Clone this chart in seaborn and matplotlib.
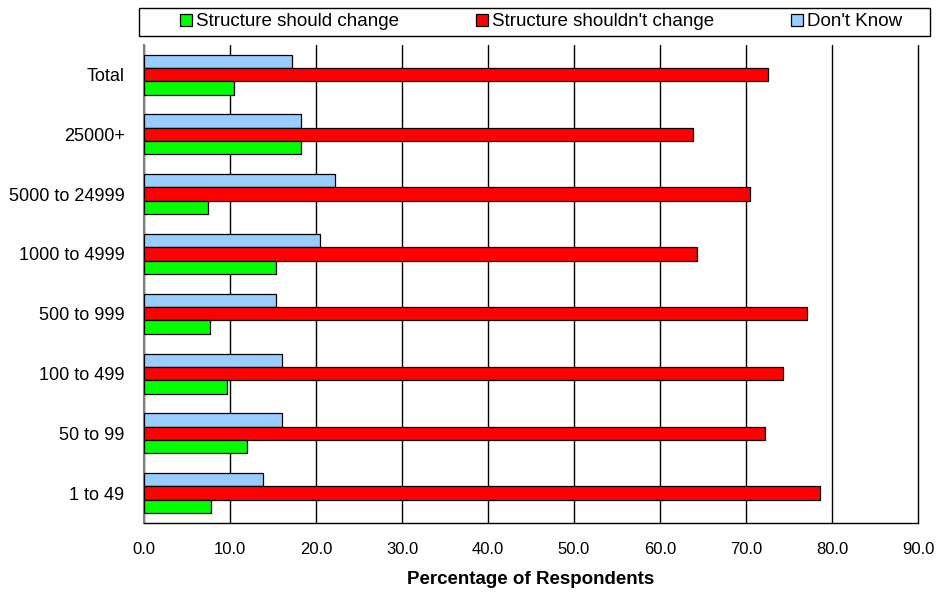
import numpy as np
import pandas as pd
import matplotlib
matplotlib.use("Agg")
import matplotlib.pyplot as plt
from matplotlib.patches import Patch, Rectangle
import seaborn as sns

categories = ["Total", "25000+", "5000 to 24999", "1000 to 4999",
              "500 to 999", "100 to 499", "50 to 99", "1 to 49"]
should_change = [10.5, 18.2, 7.4, 15.4, 7.7, 9.7, 12.0, 7.8]
shouldnt_change = [72.5, 63.8, 70.5, 64.3, 77.1, 74.3, 72.2, 78.6]
dont_know = [17.2, 18.2, 22.2, 20.5, 15.4, 16.1, 16.0, 13.8]
series_names = ["Structure should change", "Structure shouldn't change", "Don't Know"]
series_colors = ["#00FF00", "#FF0000", "#99CCFF"]
x_ticks = [0, 10, 20, 30, 40, 50, 60, 70, 80, 90]

df = pd.DataFrame({
    "Category": categories * 3,
    "Series": [series_names[0]] * 8 + [series_names[1]] * 8 + [series_names[2]] * 8,
    "Value": should_change + shouldnt_change + dont_know,
})

sns.set_style("white")
plt.rcParams["font.family"] = ["Liberation Sans", "DejaVu Sans"]
plt.rcParams["text.color"] = "black"
plt.rcParams["axes.labelcolor"] = "black"
plt.rcParams["xtick.color"] = "black"
plt.rcParams["ytick.color"] = "black"

fig = plt.figure(figsize=(9.38, 5.92), dpi=100)
ax = fig.add_axes([144 / 938, 1 - 523 / 592, (918 - 144) / 938, (523 - 44.7) / 592])

hue_order = [series_names[2], series_names[1], series_names[0]]
palette = {n: c for n, c in zip(series_names, series_colors)}
sns.barplot(data=df, y="Category", x="Value", hue="Series", order=categories,
            hue_order=hue_order, palette=palette, orient="h", width=0.67,
            edgecolor="black", linewidth=0.9, saturation=1, ax=ax, legend=False,
            zorder=3)

ax.set_xlim(0, 90)
ax.set_ylim(7.5, -0.5)
ax.set_xticks(x_ticks)
ax.set_xticklabels([f"{v:.1f}" for v in x_ticks], fontsize=12)
ax.set_yticks(range(len(categories)))
ax.set_yticklabels(categories, fontsize=13)
ax.set_yticks(np.arange(-0.5, len(categories), 1), minor=True)
ax.tick_params(axis="y", which="major", length=0, pad=14)
ax.tick_params(axis="y", which="minor", length=5, width=1, color="black", direction="out")
ax.tick_params(axis="x", which="major", length=5, width=1, color="black", direction="out", pad=9)
ax.set_xlabel("Percentage of Respondents", fontsize=13.5, fontweight="bold", labelpad=10)
ax.set_ylabel("")

ax.grid(axis="x", color="black", linewidth=1, zorder=0)
ax.grid(axis="y", visible=False)
for gl in ax.get_xgridlines():
    gl.set_clip_on(False)
ax.set_axisbelow(True)
for s in ["top", "right"]:
    ax.spines[s].set_visible(False)
ax.spines["left"].set_color("#808080")
ax.spines["left"].set_linewidth(1.5)
ax.spines["bottom"].set_color("black")
ax.spines["bottom"].set_linewidth(1)

# legend box
fig.patches.append(Rectangle((139 / 938, 1 - 36 / 592), (930 - 139) / 938, 28 / 592,
                             transform=fig.transFigure, facecolor="white",
                             edgecolor="black", linewidth=1))
handles = [Patch(facecolor=c, edgecolor="black", linewidth=0.9) for c in series_colors]
fig.legend(handles, series_names, ncol=3, loc="center",
           bbox_to_anchor=(541 / 938, 1 - 22 / 592), frameon=False, fontsize=13.5,
           handlelength=0.65, handleheight=0.65, handletextpad=0.2,
           columnspacing=4.1, borderpad=0, borderaxespad=0)

fig.savefig("out.png", dpi=100)
